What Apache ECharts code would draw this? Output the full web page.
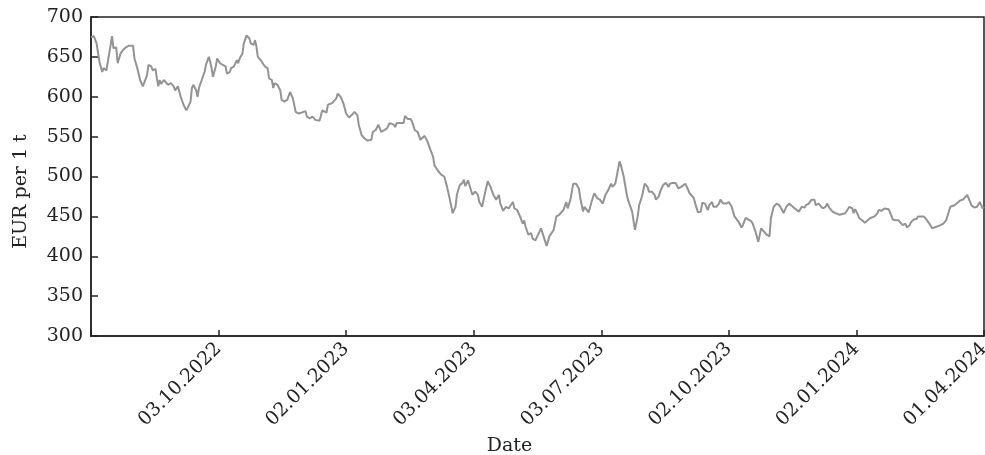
<!DOCTYPE html>
<html>
<head>
<meta charset="utf-8">
<script src="https://cdn.jsdelivr.net/npm/echarts@6/dist/echarts.min.js"></script>
<style>
  html, body { margin: 0; padding: 0; background: #fff; }
  #chart { width: 985px; height: 455px; }
</style>
</head>
<body>
<div id="chart"></div>
<script>
// days since 04.07.2022 (left edge of the plot)
const dayOffsets = [
  0, 2, 4, 6, 8, 9, 11, 12, 14, 15, 16, 18, 19, 21, 23, 25, 27, 30, 31, 33,
  35, 37, 38, 40, 41, 43, 44, 46, 47, 48, 49, 50, 52, 53, 55, 57, 59, 60, 62, 64,
  66, 68, 69, 71, 72, 73, 75, 76, 77, 79, 81, 82, 84, 85, 86, 87, 89, 90, 92, 94,
  96, 97, 99, 100, 102, 104, 105, 106, 108, 109, 111, 113, 114, 116, 117, 118, 119, 121, 122, 124,
  126, 127, 129, 130, 131, 133, 135, 136, 138, 140, 141, 142, 143, 144, 146, 148, 150, 153, 154, 156,
  158, 160, 163, 165, 168, 169, 172, 173, 175, 176, 178, 180, 182, 184, 186, 188, 190, 191, 193, 195,
  197, 200, 201, 203, 205, 207, 208, 211, 213, 216, 217, 218, 220, 223, 224, 226, 228, 229, 231, 233,
  235, 236, 238, 240, 242, 244, 245, 248, 250, 252, 254, 256, 258, 260, 261, 263, 265, 266, 267, 269,
  270, 272, 274, 276, 277, 279, 281, 283, 285, 287, 288, 289, 291, 292, 294, 296, 298, 299, 301, 302,
  304, 306, 308, 309, 310, 312, 314, 315, 317, 321, 325, 327, 330, 332, 334, 337, 339, 340, 342, 344,
  346, 348, 349, 351, 352, 355, 357, 359, 361, 363, 365, 367, 369, 371, 372, 374, 375, 377, 378, 380,
  382, 383, 386, 388, 390, 391, 393, 395, 397, 398, 400, 402, 403, 405, 406, 408, 410, 412, 413, 415,
  417, 419, 421, 422, 424, 425, 427, 428, 430, 431, 433, 435, 436, 438, 440, 441, 443, 444, 446, 448,
  449, 451, 452, 453, 455, 457, 459, 460, 462, 464, 465, 467, 469, 471, 472, 474, 476, 478, 480, 482,
  484, 485, 487, 489, 491, 493, 494, 496, 498, 500, 502, 503, 505, 507, 509, 510, 512, 514, 516, 517,
  519, 520, 522, 524, 525, 527, 529, 531, 532, 534, 536, 538, 539, 541, 543, 544, 545, 546, 548, 550,
  552, 554, 556, 557, 559, 561, 562, 564, 566, 567, 569, 570, 572, 574, 576, 577, 579, 581, 582, 584,
  585, 587, 589, 590, 592, 594, 596, 598, 600, 601, 603, 604, 606, 608, 610, 611, 613, 614, 616, 618,
  620, 622, 623, 625, 626, 628, 630, 632, 634, 635, 636, 637
];

const prices = [
  675, 676, 667, 644, 631, 636, 633, 644, 665, 676, 661, 662, 642, 654, 659, 662, 664, 664, 648, 636,
  621, 613, 611, 627, 640, 638, 633, 635, 623, 613, 621, 616, 621, 619, 615, 617, 613, 608, 613, 600,
  590, 583, 586, 594, 611, 615, 608, 600, 611, 621, 631, 640, 650, 644, 636, 625, 638, 648, 642, 640,
  638, 629, 631, 636, 638, 646, 642, 648, 654, 667, 677, 673, 667, 665, 671, 663, 650, 646, 648, 638,
  636, 623, 621, 611, 617, 615, 608, 596, 594, 596, 594, 606, 606, 598, 581, 579, 580, 582, 575, 573,
  575, 571, 570, 583, 580, 590, 592, 594, 598, 604, 600, 592, 579, 574, 577, 581, 577, 565, 552, 548,
  545, 546, 556, 558, 565, 556, 558, 560, 567, 565, 562, 567, 567, 567, 576, 572, 572, 569, 558, 556,
  546, 544, 551, 544, 534, 525, 514, 506, 502, 500, 487, 471, 454, 462, 477, 489, 492, 496, 488, 495,
  496, 477, 481, 477, 468, 462, 479, 494, 487, 477, 479, 471, 477, 466, 457, 462, 460, 463, 468, 460,
  458, 450, 441, 445, 437, 427, 429, 422, 420, 435, 413, 425, 433, 450, 452, 458, 468, 460, 471, 491,
  491, 485, 473, 456, 462, 455, 468, 479, 473, 471, 466, 477, 483, 491, 487, 491, 500, 519, 514, 500,
  479, 471, 456, 433, 450, 464, 475, 491, 487, 481, 481, 477, 471, 475, 481, 489, 492, 487, 491, 492,
  492, 485, 487, 485, 491, 487, 479, 479, 473, 466, 455, 456, 467, 466, 458, 464, 468, 462, 462, 466,
  471, 466, 468, 466, 468, 462, 450, 448, 443, 436, 439, 448, 446, 444, 441, 431, 418, 435, 431, 427,
  425, 448, 462, 466, 464, 458, 454, 462, 466, 463, 460, 458, 456, 462, 461, 464, 466, 471, 471, 464,
  466, 464, 460, 462, 466, 460, 456, 454, 455, 452, 453, 454, 456, 462, 460, 454, 459, 456, 448, 445,
  442, 445, 448, 446, 450, 454, 458, 457, 460, 459, 459, 458, 446, 445, 445, 443, 439, 441, 436, 439,
  443, 446, 447, 450, 450, 450, 446, 441, 435, 433, 437, 438, 439, 441, 445, 446, 462, 460, 464, 467,
  470, 471, 473, 477, 473, 464, 461, 462, 468, 467, 460, 462
];

const xTickLabels = ['', '03.10.2022', '02.01.2023', '03.04.2023', '03.07.2023', '02.10.2023', '02.01.2024', '01.04.2024'];
const tickStepDays = 91;

const seriesData = dayOffsets.map((d, i) => [d, prices[i]]);

const font = 'DejaVu Serif, Liberation Serif, serif';
const ink = '#222';

const chart = echarts.init(document.getElementById('chart'));

chart.setOption({
  backgroundColor: '#fff',
  animation: false,
  grid: {
    left: 91,
    right: 1,
    top: 17,
    bottom: 119,
    outerBoundsMode: 'none',
    show: true,
    borderColor: ink,
    borderWidth: 1.5,
    backgroundColor: 'transparent'
  },
  xAxis: {
    type: 'value',
    min: 0,
    max: tickStepDays * (xTickLabels.length - 1),
    interval: tickStepDays,
    name: 'Date',
    nameLocation: 'middle',
    nameGap: 98,
    nameTextStyle: { fontFamily: font, fontSize: 19, color: ink, padding: [0, 56, 0, 0] },
    axisLine: { lineStyle: { color: ink, width: 1.5 } },
    axisTick: { inside: true, length: 6, lineStyle: { color: ink, width: 1.5 } },
    splitLine: { show: false },
    axisLabel: {
      rotate: 45,
      margin: 10,
      fontFamily: font,
      fontSize: 19,
      color: ink,
      showMaxLabel: true,
      formatter: v => xTickLabels[Math.round(v / tickStepDays)] || ''
    }
  },
  yAxis: {
    type: 'value',
    min: 300,
    max: 700,
    interval: 50,
    name: 'EUR per 1 t',
    nameLocation: 'middle',
    nameGap: 60,
    nameTextStyle: { fontFamily: font, fontSize: 19, color: ink, padding: [0, 30, 0, 0] },
    axisLine: { show: true, lineStyle: { color: ink, width: 1.5 } },
    axisTick: { show: true, inside: true, length: 7, lineStyle: { color: ink, width: 1.5 } },
    splitLine: { show: false },
    axisLabel: { fontFamily: font, fontSize: 19, color: ink, margin: 8 }
  },
  series: [
    {
      type: 'line',
      data: seriesData,
      showSymbol: false,
      lineStyle: { color: '#939393', width: 2 },
      silent: true
    }
  ]
});
</script>
</body>
</html>
